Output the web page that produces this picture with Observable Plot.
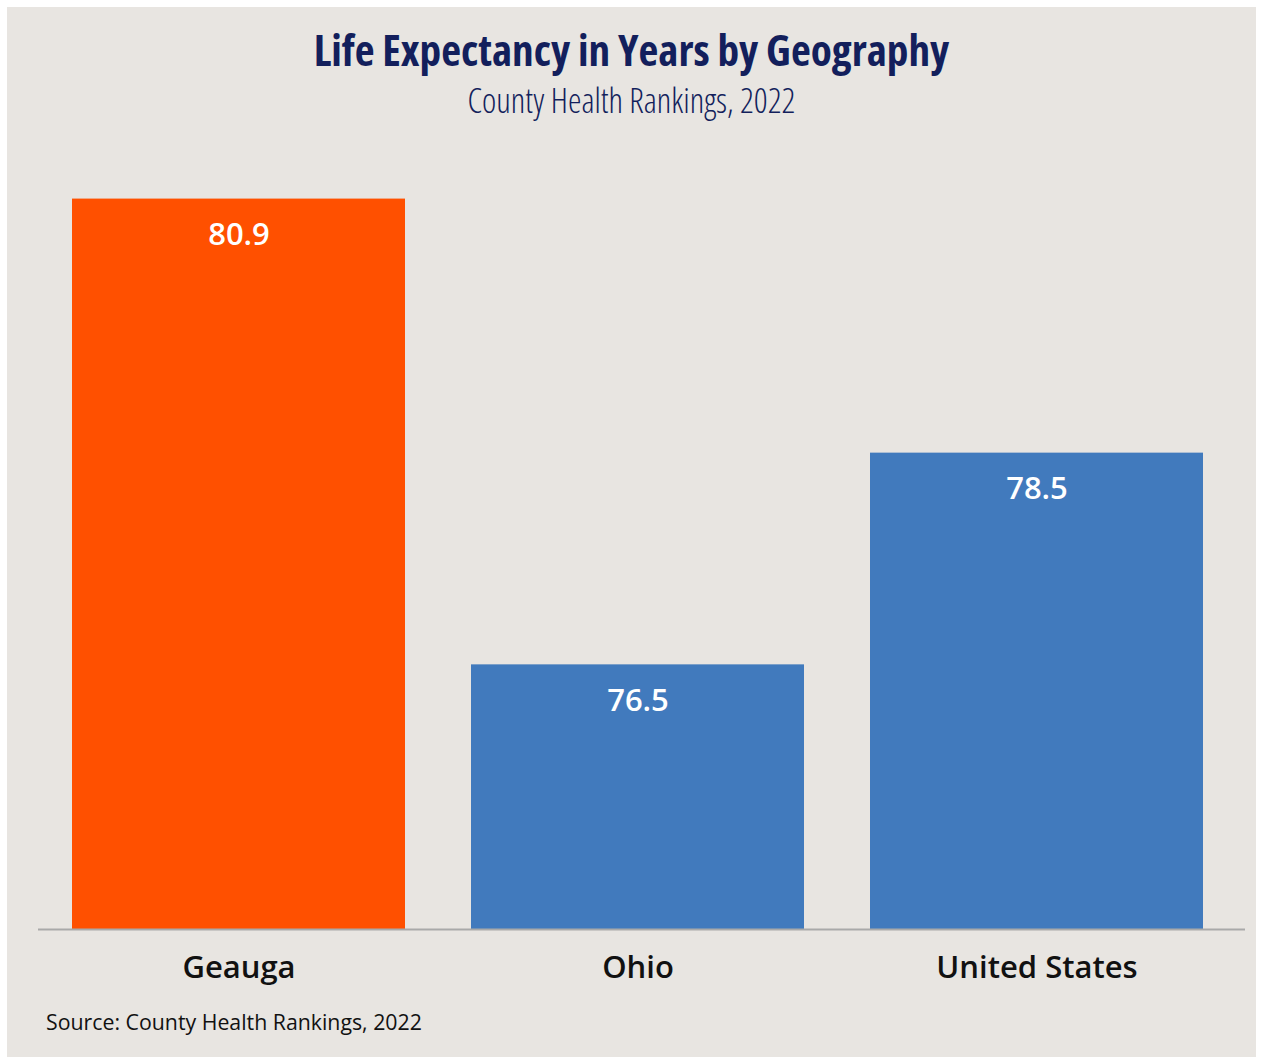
<!DOCTYPE html>
<html>
<head>
<meta charset="utf-8">
<script src="https://cdn.jsdelivr.net/npm/d3@7"></script>
<script src="https://cdn.jsdelivr.net/npm/@observablehq/plot@0.6"></script>
<style>
  html, body { margin: 0; padding: 0; background: #ffffff; }
  #panel { position: absolute; left: 7px; top: 7px; width: 1249px; height: 1050px; background: #e8e5e1; overflow: hidden; }
  #title { position: absolute; left: 0; width: 100%; top: 21px; text-align: center; font-family: "Open Sans"; font-stretch: 75%; font-weight: 700; font-size: 43.3px; line-height: 1; color: #131f5c; }
  #subtitle { position: absolute; left: 0; width: 100%; top: 76px; text-align: center; font-family: "Open Sans"; font-stretch: 75%; font-weight: 300; font-size: 34px; line-height: 1; color: #131f5c; }
  #chart { position: absolute; left: 0; top: 136px; }
  #source { position: absolute; left: 39px; top: 1000px; font-family: "Open Sans"; font-size: 21.3px; color: #111; }
</style>
</head>
<body>
<div id="panel">
  <div id="title">Life Expectancy in Years by Geography</div>
  <div id="subtitle">County Health Rankings, 2022</div>
  <div id="chart"></div>
  <div id="source">Source: County Health Rankings, 2022</div>
</div>
<script>
const geographies = ["Geauga", "Ohio", "United States"];
const lifeExpectancy = [80.9, 76.5, 78.5];
const barColors = ["#ff5000", "#417abd", "#417abd"];

const data = geographies.map((g, i) => ({geo: g, value: lifeExpectancy[i], color: barColors[i]}));

const chart = Plot.plot({
  width: 1249,
  height: 856,
  marginLeft: 31,
  marginRight: 11,
  marginTop: 45,
  marginBottom: 70,
  style: {fontFamily: "Open Sans", background: "transparent", overflow: "visible"},
  x: {domain: geographies, paddingInner: 0.1665, paddingOuter: 0.0939, align: 0.44, label: null},
  y: {domain: [74, 81], axis: null},
  marks: [
    Plot.barY(data, {x: "geo", y1: 74, y2: "value", fill: "color"}),
    Plot.text(data, {x: "geo", y: "value", text: d => d.value.toFixed(1), dy: 36, fill: "white", fontSize: 31, fontWeight: 600}),
    Plot.ruleY([74], {stroke: "#a9a9a9", strokeWidth: 2}),
    Plot.axisX({tickSize: 0, tickPadding: 26, fontSize: 31, fontWeight: 600, fill: "#111", label: null})
  ]
});
document.getElementById("chart").appendChild(chart);
</script>
</body>
</html>
